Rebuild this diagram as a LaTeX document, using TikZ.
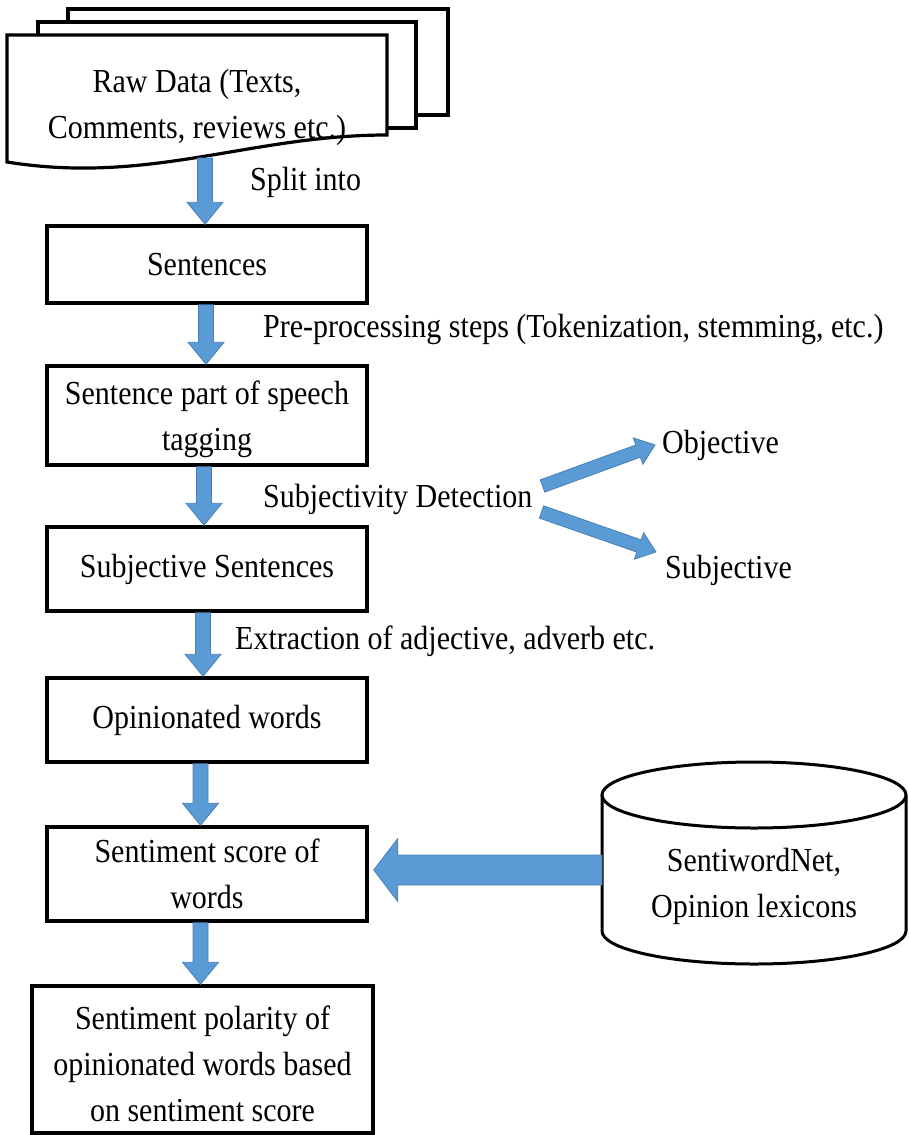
\documentclass[tikz,border=0pt]{standalone}
\usepackage{fontspec}
\setmainfont{Liberation Serif}
\usepackage{graphicx}
\usetikzlibrary{calc}
\definecolor{arrowblue}{HTML}{5B9BD5}
\definecolor{arrowedge}{HTML}{4A7FB5}
\newcommand\fs{\fontsize{30}{46}\selectfont}
\newcommand\tl[1]{\scalebox{1}[1.12]{#1}}
% block arrow between two named coordinates: tail, tip, shaft half-width, head half-width, head length
\newcommand\blockarrow[5]{%
  \path ($(#2)!#5!(#1)$) coordinate (ahb);
  \draw[barrow] ($(#1)!#3!90:(#2)$) -- ($(ahb)!#3!90:(#2)$) -- ($(ahb)!#4!90:(#2)$) -- (#2)
    -- ($(ahb)!#4!-90:(#2)$) -- ($(ahb)!#3!-90:(#2)$) -- ($(#1)!#3!-90:(#2)$) -- cycle;
}
\begin{document}
\begin{tikzpicture}[x=1pt,y=-1pt,
  box/.style={draw, line width=3.5pt, fill=white, align=center, font=\fs, inner sep=0pt},
  lbl/.style={font=\fs, inner sep=0pt},
  sheet/.style={draw, line width=3.2pt, fill=white, line join=miter},
  barrow/.style={fill=arrowblue, draw=arrowedge, line width=0.8pt, line join=miter}]
\useasboundingbox (0,0) rectangle (909,1135);

% stacked documents
\draw[sheet] (68,9) rectangle (448,115);
\draw[sheet] (38,22) rectangle (416,128);
\draw[sheet] (7,35) -- (387,35) -- (387,135) .. controls (250,135) and (150,185) .. (7,162) -- cycle;
\node[lbl, align=center] (raw) at (197,107) {\tl{Raw Data (Texts,}\\\tl{Comments, reviews etc.)}};
\coordinate (rawout) at (205,158);

% process boxes
\node[box, minimum width=320pt, minimum height=77pt] (sent) at (207,264.5) {\tl{Sentences}};
\node[box, minimum width=320pt, minimum height=99pt] (pos) at (207,415.5) {\rule{0pt}{31pt}\tl{Sentence part of speech}\\\tl{tagging}};
\node[box, minimum width=320pt, minimum height=84pt] (subj) at (207,569) {\tl{Subjective Sentences}};
\node[box, minimum width=320pt, minimum height=84pt] (opin) at (207,720) {\tl{Opinionated words}};
\node[box, minimum width=320pt, minimum height=94pt] (score) at (207,874) {\tl{Sentiment score of}\\\tl{words}};
\node[box, minimum width=341pt, minimum height=147pt] (final) at (202.5,1059.5) {\rule{0pt}{33pt}\tl{Sentiment polarity of}\\\tl{opinionated words based}\\\tl{on sentiment score}};

% lexicon database
\draw[line width=3pt, fill=white] (602,795) -- (602,931) arc[start angle=180, end angle=360, x radius=152pt, y radius=33pt] -- (906,795);
\draw[line width=3pt, fill=white] (754,795) ellipse [x radius=152pt, y radius=33pt];
\node[lbl, align=center] (db) at (754,886) {\tl{SentiwordNet,}\\\tl{Opinion lexicons}};
\coordinate (dbl) at (602,870);

% step labels
\node[lbl, anchor=base west] (split) at (250,190) {\tl{Split into}};
\node[lbl, anchor=base west] (prep) at (263,337) {\tl{Pre-processing steps (Tokenization, stemming, etc.)}};
\node[lbl, anchor=base west] (sd) at (263,507) {\tl{Subjectivity Detection}};
\node[lbl, anchor=base west] (obj) at (662,453) {\tl{Objective}};
\node[lbl, anchor=base west] (sub) at (665,578) {\tl{Subjective}};
\node[lbl, anchor=base west] (extr) at (235,649) {\tl{Extraction of adjective, adverb etc.}};

% vertical flow arrows
\coordinate (a1h) at ($(sent.north)+(-2,0)$);
\blockarrow{rawout}{a1h}{7.5pt}{18pt}{22pt}
\coordinate (a2t) at ($(sent.south)+(-1,0)$);
\coordinate (a2h) at ($(pos.north)+(-1,0)$);
\blockarrow{a2t}{a2h}{7.5pt}{18pt}{22pt}
\coordinate (a3t) at ($(pos.south)+(-3,0)$);
\coordinate (a3h) at ($(subj.north)+(-3,0)$);
\blockarrow{a3t}{a3h}{7.5pt}{18pt}{22pt}
\coordinate (a4t) at ($(subj.south)+(-4,0)$);
\coordinate (a4h) at ($(opin.north)+(-4,0)$);
\blockarrow{a4t}{a4h}{7.5pt}{18pt}{22pt}
\coordinate (a5t) at ($(opin.south)+(-6.5,0)$);
\coordinate (a5h) at ($(score.north)+(-6.5,0)$);
\blockarrow{a5t}{a5h}{7.5pt}{18pt}{22pt}
\coordinate (a6t) at ($(score.south)+(-6.5,0)$);
\coordinate (a6h) at ($(final.north)+(-2,0)$);
\blockarrow{a6t}{a6h}{7.5pt}{18pt}{22pt}

% subjectivity branches
\coordinate (d1t) at ($(sd.east)+(10,-13)$);
\coordinate (d1h) at ($(obj.west)+(-7,0)$);
\blockarrow{d1t}{d1h}{6.5pt}{14pt}{18pt}
\coordinate (d2t) at ($(sd.east)+(9,13)$);
\coordinate (d2h) at ($(sub.west)+(-9,-18)$);
\blockarrow{d2t}{d2h}{6.5pt}{14pt}{18pt}

% lexicon feed
\coordinate (lexh) at ($(score.east)+(5,-4)$);
\blockarrow{dbl}{lexh}{15pt}{31.5pt}{24pt}
\end{tikzpicture}
\end{document}
